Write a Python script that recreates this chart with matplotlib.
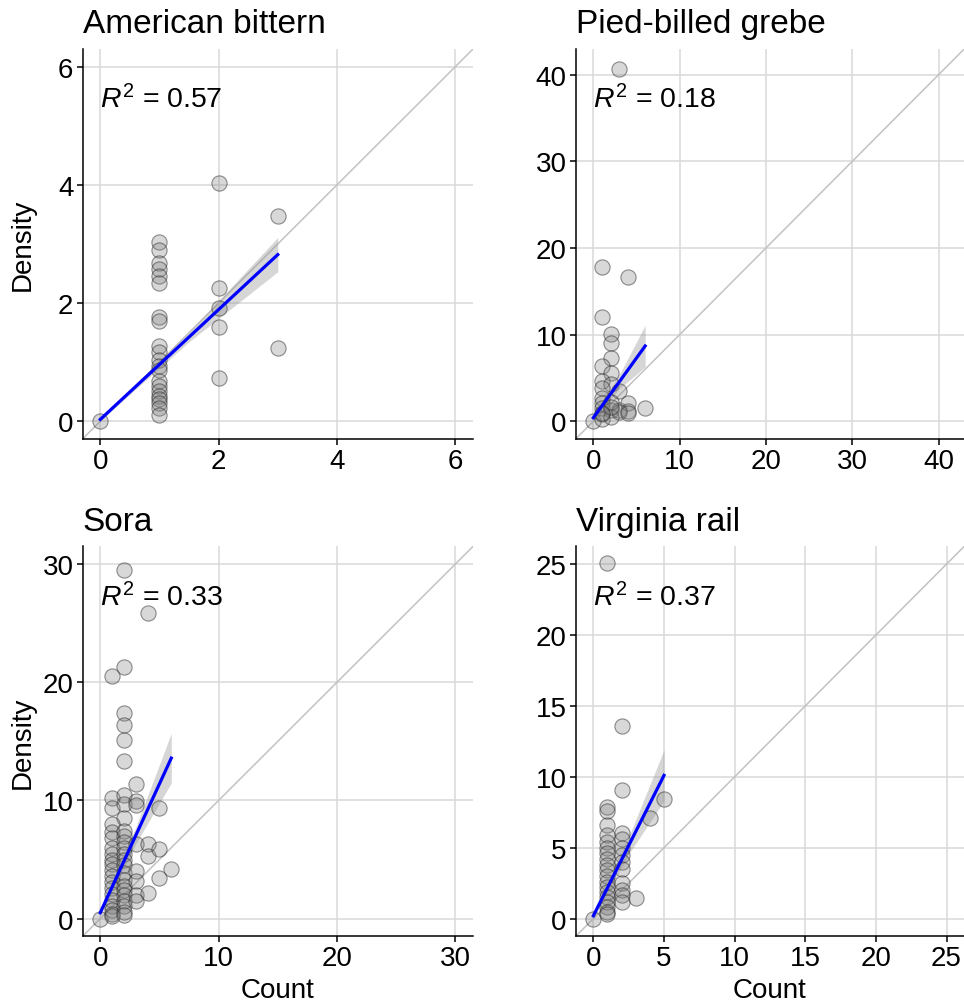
import numpy as np
import matplotlib
matplotlib.use("Agg")
from matplotlib import pyplot as plt

plt.rcParams['font.family'] = ['Liberation Sans', 'DejaVu Sans']
plt.rcParams['mathtext.fontset'] = 'custom'
plt.rcParams['mathtext.rm'] = 'Liberation Sans'
plt.rcParams['mathtext.it'] = 'Liberation Sans:italic'

# ---- data ----
titles = ['American bittern', 'Pied-billed grebe', 'Sora', 'Virginia rail']
r2_vals = [0.57, 0.18, 0.33, 0.37]
axis_max = [6, 40.9, 30, 25]
ticks = [[0, 2, 4, 6], [0, 10, 20, 30, 40], [0, 10, 20, 30], [0, 5, 10, 15, 20, 25]]

ab_count = [0] + [1]*21 + [2]*5 + [3]*2
ab_density = [0,
              3.03, 2.90, 2.68, 2.58, 2.46, 2.34, 1.76, 1.69, 1.27, 1.18, 1.04,
              0.93, 0.87, 0.68, 0.59, 0.51, 0.42, 0.37, 0.31, 0.23, 0.11,
              4.03, 2.25, 1.92, 1.60, 0.73,
              3.48, 1.24]

pb_count = [0, 3, 1, 4, 1, 2, 2, 2, 1, 2, 1, 2, 1, 3, 1, 1, 1, 2, 3, 4, 4, 6,
            1, 1, 2, 3, 4, 2, 2, 1]
pb_density = [0, 40.6, 17.75, 16.6, 12.0, 10.1, 9.07, 7.33, 6.37, 5.6, 4.63,
              4.25, 3.86, 3.47, 2.7, 2.13, 1.55, 1.35, 1.35, 2.1, 1.2, 1.47,
              0.78, 0.3, 0.5, 1.1, 0.9, 2.2, 1.6, 1.0]

so_count = ([0, 2, 4, 2, 1, 2, 2, 2, 2, 3, 1, 1, 2, 2, 2, 3, 3, 5]
            + [1]*17 + [2]*16 + [3]*5 + [4]*3 + [5]*2 + [6])
so_density = ([0, 29.5, 25.9, 21.3, 20.5, 17.4, 16.35, 15.1, 13.3, 11.36, 10.2,
               9.4, 10.5, 9.67, 8.5, 9.95, 9.6, 9.4]
              + [8.0, 7.3, 6.8, 6.0, 5.5, 5.0, 4.6, 4.1, 3.6, 3.1, 2.6, 2.1, 1.6,
                 1.1, 0.7, 0.4, 0.2]
              + [7.4, 7.0, 6.5, 6.0, 5.5, 5.0, 4.5, 3.9, 3.3, 2.8, 2.4, 2.0, 1.5,
                 1.1, 0.6, 0.3]
              + [6.3, 4.0, 3.2, 2.0, 1.5]
              + [6.3, 5.3, 2.2]
              + [5.86, 3.47]
              + [4.23])

vr_count = [0, 1, 2, 2, 1, 1, 2, 5, 4, 3] + [1]*17 + [2]*9
vr_density = ([0, 25.07, 13.55, 9.08, 7.9, 6.58, 6.07, 8.47, 7.13, 1.48]
              + [7.6, 5.9, 5.4, 5.0, 4.6, 4.2, 3.8, 3.4, 3.0, 2.6, 2.2, 1.9,
                 1.5, 1.2, 0.8, 0.5, 0.3]
              + [5.6, 5.0, 4.5, 4.0, 3.5, 2.5, 2.0, 1.7, 1.2])

counts = [ab_count, pb_count, so_count, vr_count]
densities = [ab_density, pb_density, so_density, vr_density]

# fitted line (intercept, slope) and ribbon half-widths at band x
fit_int = [0.03, 0.4, 0.5, 0.2]
fit_slope = [0.93, 1.38, 2.18, 1.98]
band_x = [[0, 1.5, 3], [0, 3, 6], [0, 3, 6], [0, 2.5, 5]]
band_hw = [[0.02, 0.08, 0.29], [0.3, 0.8, 2.4], [0.3, 0.7, 2.1], [0.2, 0.6, 1.8]]

# ---- layout ----
fig = plt.figure(figsize=(9.64, 10.04), dpi=100)
positions = [[0.0856, 0.5618, 0.4051, 0.3884],
             [0.5972, 0.5618, 0.403, 0.3884],
             [0.0856, 0.0664, 0.4051, 0.3884],
             [0.5972, 0.0664, 0.403, 0.3884]]

for i in range(4):
    ax = fig.add_axes(positions[i])
    m = axis_max[i]
    lim = (-0.05*m, 1.05*m)
    ax.set_xlim(lim)
    ax.set_ylim(lim)
    ax.set_xticks(ticks[i])
    ax.set_yticks(ticks[i])
    ax.grid(True, color='#d9d9d9', linewidth=1.1, zorder=0)
    ax.set_axisbelow(True)
    for s in ['top', 'right']:
        ax.spines[s].set_visible(False)
    for s in ['left', 'bottom']:
        ax.spines[s].set_linewidth(1.1)
        ax.spines[s].set_color('black')
    ax.tick_params(axis='both', labelsize=20, length=4, width=1.1,
                   color='black', labelcolor='black', pad=2.5)

    ax.axline((0, 0), slope=1, color='#c2c2c2', linewidth=1.1, zorder=1)

    bx = np.array(band_x[i])
    yfit = fit_int[i] + fit_slope[i]*bx
    hw = np.array(band_hw[i])
    ax.fill_between(bx, yfit - hw, yfit + hw, color='#999999', alpha=0.4,
                    linewidth=0, zorder=2)

    ax.scatter(counts[i], densities[i], s=120, facecolor=(0.5, 0.5, 0.5, 0.3),
               edgecolor=(0.15, 0.15, 0.15, 0.5), linewidth=0.8, zorder=3)

    ax.plot(bx, yfit, color='blue', linewidth=2.3, zorder=4)

    ax.text(0.045, 0.85, r'$R^2$ = %.2f' % r2_vals[i], transform=ax.transAxes,
            fontsize=20.5, ha='left', va='baseline')
    ax.set_title(titles[i], loc='left', fontsize=24, pad=12)

    if i in (0, 2):
        ax.set_ylabel('Density', fontsize=20)
        ax.yaxis.set_label_coords(-0.12, 0.5)
    if i in (2, 3):
        ax.set_xlabel('Count', fontsize=20)
        ax.xaxis.set_label_coords(0.5, -0.105)

fig.savefig('out.png', dpi=100)
